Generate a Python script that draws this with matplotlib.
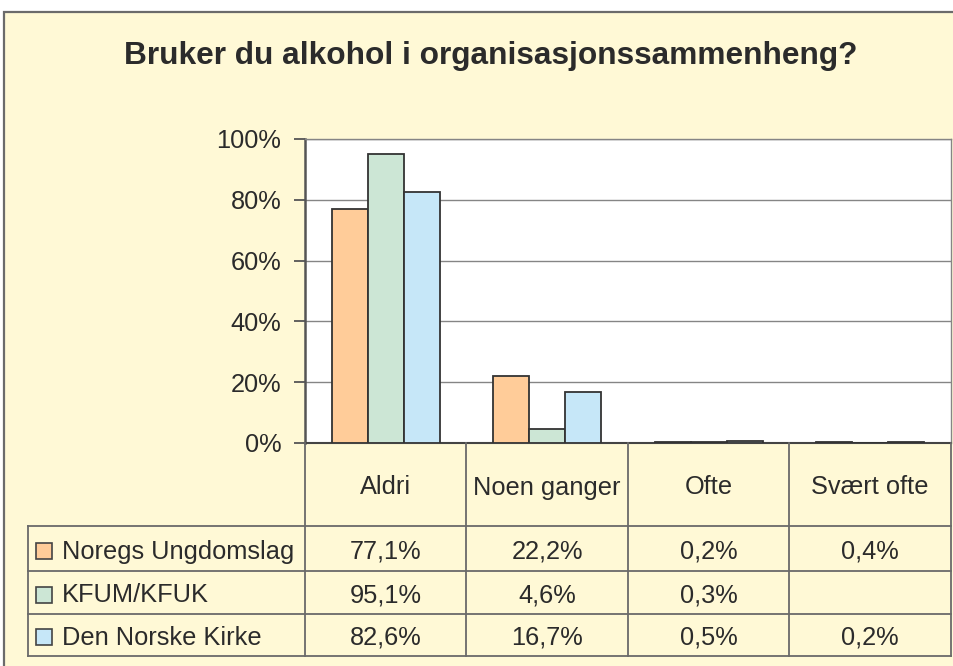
import numpy as np
import matplotlib.pyplot as plt
from matplotlib.patches import Rectangle

plt.rcParams['font.family'] = ['Liberation Sans', 'DejaVu Sans']

# data
categories = ['Aldri', 'Noen ganger', 'Ofte', 'Svært ofte']
series = ['Noregs Ungdomslag', 'KFUM/KFUK', 'Den Norske Kirke']
nu = [77.1, 22.2, 0.2, 0.4]
kfum = [95.1, 4.6, 0.3, None]
dnk = [82.6, 16.7, 0.5, 0.2]
colors = ['#FFCC99', '#CCE6D5', '#C6E7F8']
title = 'Bruker du alkohol i organisasjonssammenheng?'

values = [nu, kfum, dnk]
W, H = 954, 666
bg = '#FFF9D6'
txt = '#2b2b2b'
fs = 18.3

fig = plt.figure(figsize=(W / 100, H / 100), dpi=100)
fig.patch.set_facecolor('white')
# chart area frame (runs off the right / bottom edge)
fig.patches.append(Rectangle((4 / W, -0.05), 1.1, 1 - 12 / H + 0.05, transform=fig.transFigure,
                             facecolor=bg, edgecolor='#6b6b6b', linewidth=1.6, zorder=-10))
fig.text(491 / W, 1 - 56 / H, title, ha='center', va='center', fontsize=22.8,
         fontweight='bold', color=txt)

# bar plot
x0, x1, ytop, ybot = 305, 951, 139, 443
ax = fig.add_axes([x0 / W, 1 - ybot / H, (x1 - x0) / W, (ybot - ytop) / H])
ax.set_facecolor('white')
x = np.arange(len(categories))
bw = 0.223
for i, (vals, c) in enumerate(zip(values, colors)):
    v = [0 if a is None else a for a in vals]
    ax.bar(x + (i - 1) * bw, v, bw, color=c, edgecolor='#333333', linewidth=1.3, zorder=3)
ax.set_xlim(-0.5, len(categories) - 0.5)
ax.set_ylim(0, 100)
ax.set_yticks(np.arange(0, 101, 20))
ax.set_yticklabels([f'{t}%' for t in range(0, 101, 20)], fontsize=fs, color=txt)
ax.set_xticks([])
ax.yaxis.grid(True, color='#858585', linewidth=1.0, zorder=0)
ax.tick_params(axis='y', length=8, width=1.3, color='#555555', pad=9)
ax.spines['left'].set_color('#555555')
ax.spines['left'].set_linewidth(1.8)
ax.spines['bottom'].set_color('#444444')
ax.spines['bottom'].set_linewidth(1.5)
for s in ('top', 'right'):
    ax.spines[s].set_color('#858585')
    ax.spines[s].set_linewidth(1.0)

# data table
tl, tt, tb = 28, 443, 656
ppu = (x1 - x0) / len(categories)
tx = fig.add_axes([tl / W, 1 - tb / H, (x1 - tl) / W, (tb - tt) / H])
tx.set_xlim(-0.5 - (x0 - tl) / ppu, len(categories) - 0.5)
tx.set_ylim(tb - tt, 0)
tx.axis('off')
rows = [0, 83, 128, 171, 213]
lc = '#6a6a6a'
xl = -0.5 - (x0 - tl) / ppu
xr = len(categories) - 0.5
for k in range(len(categories) + 1):
    tx.plot([k - 0.5, k - 0.5], [0, rows[-1]], color=lc, lw=1.3, clip_on=False)
tx.plot([xl, xl], [rows[1], rows[-1]], color=lc, lw=1.3, clip_on=False)
for r in rows[1:]:
    tx.plot([xl, xr], [r, r], color=lc, lw=1.3, clip_on=False)
for k, c in enumerate(categories):
    tx.text(k, (rows[0] + rows[1]) / 2 + 3, c, ha='center', va='center', fontsize=fs, color=txt)
key = 16 / ppu
for i, (name, vals, c) in enumerate(zip(series, values, colors)):
    yc = (rows[i + 1] + rows[i + 2]) / 2 + 3
    tx.add_patch(Rectangle((xl + 8 / ppu, yc - 9), key, 16, facecolor=c,
                           edgecolor='#444444', lw=1.2, clip_on=False))
    tx.text(xl + 34 / ppu, yc, name, ha='left', va='center', fontsize=fs, color=txt)
    for k, v in enumerate(vals):
        if v is not None:
            tx.text(k, yc, f'{v:.1f}%'.replace('.', ','), ha='center', va='center',
                    fontsize=fs, color=txt)

fig.savefig('out.png', dpi=100, facecolor=fig.get_facecolor())
